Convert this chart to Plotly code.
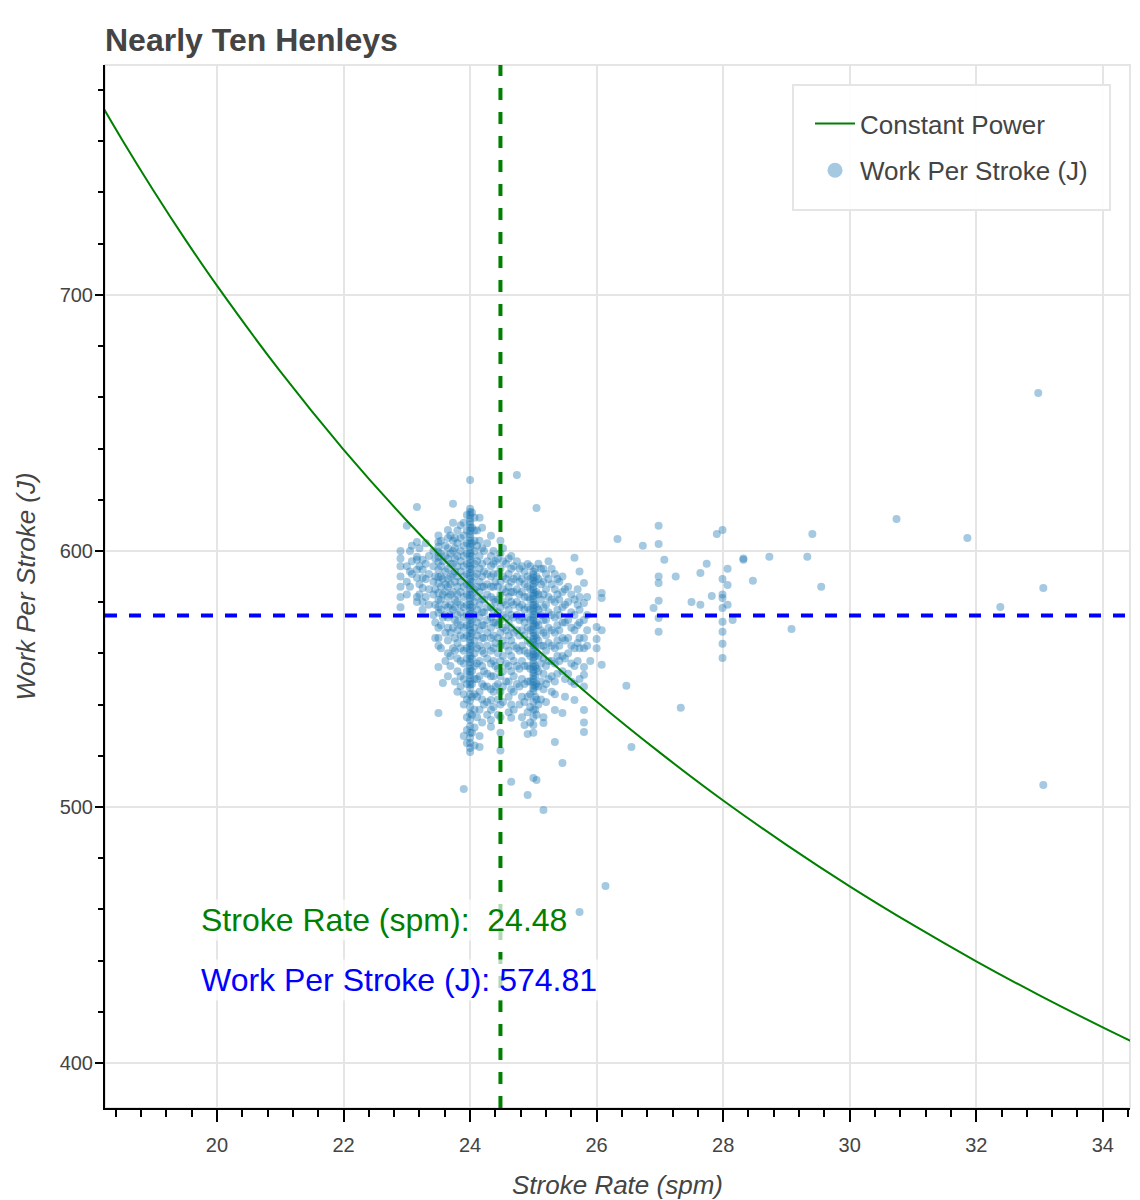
import plotly.graph_objects as go

# ---------------- data ----------------
mean_rate = 24.48      # mean stroke rate (spm)
mean_work = 574.81     # mean work per stroke (J)

# constant power curve
curve_rate = [18.0, 18.5, 19.0, 19.5, 20.0, 21.0, 22.0, 23.0, 24.0, 25.0, 26.0, 27.0,
              28.0, 29.0, 30.0, 31.0, 32.0, 33.0, 34.0, 34.6]
curve_work = [781.7, 760.6, 740.6, 721.6, 703.6, 670.1, 639.6, 611.8, 586.3, 562.9, 541.2, 521.2,
              502.5, 485.2, 469.0, 453.9, 439.7, 426.4, 413.9, 406.7]

# work per stroke, grouped by stroke-rate column
rates_23 = [22.90, 23.00, 23.08, 23.16, 23.25, 23.35, 23.42, 23.50, 23.57, 23.65, 23.73, 23.80, 23.90]
works_23 = [
    [600, 597, 594, 590, 586, 582, 578],
    [609.8, 594, 588, 583],
    [602, 596, 591],
    [617.2, 603.5, 597.7, 596.5, 592.6, 589.5, 582, 580],
    [596.5, 592.6, 589.5, 585.5, 580, 577],
    [598, 591, 585, 579],
    [600, 594, 588, 583, 575],
    [606, 603.5, 601.6, 599.6, 597.7, 595.7, 592.6, 589.8, 587.5, 583.6, 580.9, 578.1, 575.8, 570, 566, 563, 554.7, 536.7],
    [596, 589, 583, 574, 548.4],
    [608.2, 605, 601, 597, 593, 589, 586, 582, 578, 574, 570, 565, 560, 551],
    [618.4, 611, 604, 600, 595, 591, 584, 577, 570, 562],
    [608, 603, 598, 594, 590, 586, 583, 580, 575, 572, 569, 564, 558, 553, 545],
    [611, 606, 602, 598, 594, 590, 586, 582, 578, 574, 570, 566, 561, 556, 550, 544, 540, 527.7, 507],
]

rates_24 = [24.00, 24.07, 24.15, 24.22, 24.33, 24.40, 24.48, 24.57, 24.65, 24.74, 24.82, 24.91]
works_24 = [
    [627.7, 616.5, 615.2, 614.0, 612.8, 611.5, 610.3, 609.0, 607.8, 606.5, 605.3, 604.0, 602.8, 601.5,
     600.3, 599.0, 597.8, 596.5, 595.3, 594.0, 592.8, 591.5, 590.3, 589.0, 587.8, 586.5, 585.3, 584.0,
     582.8, 581.5, 580.3, 579.0, 577.8, 576.5, 575.3, 574.0, 572.8, 571.5, 570.3, 569.0, 567.8, 566.5,
     565.3, 564.0, 562.8, 561.5, 560.3, 559.0, 557.8, 556.5, 555.3, 554.0, 552.8, 551.5, 550.3, 549.0,
     547.8, 546.5, 544.0, 541.5, 539.0, 536.5, 534.0, 531.5, 529.0, 527.0, 525.0, 523.0, 521.5],
    [613, 608, 604, 600, 595, 590, 585, 580, 575, 570, 565, 560, 555, 550, 544, 538, 531, 524],
    [613, 604, 598, 593, 588, 584, 579, 574, 569, 563, 557, 551, 545, 538, 527.7, 523.4],
    [600, 592, 586, 581, 576, 571, 566, 560, 553, 547, 540],
    [605.9, 598, 594, 590, 586, 582, 578, 574, 570, 566, 561, 556, 551, 546, 541.8, 538, 534, 531.3],
    [596, 588, 580, 572, 564, 555, 547],
    [604, 599, 593, 588, 583, 578, 573, 568, 563, 557, 551, 545, 540, 535, 529, 522],
    [595, 589, 584, 579, 574, 569, 563, 556, 549],
    [598, 593, 588, 584, 580, 575, 570, 565, 559, 553, 546, 540, 534.8, 509.8],
    [629.7, 596, 590, 585, 580, 575, 569, 562, 555, 548],
    [594, 589, 584, 579, 574, 569, 563, 557, 550, 543, 535],
    [594.9, 590, 586, 582, 578, 574, 570, 565, 560, 555, 549, 543, 537, 528.5, 504.7],
]

rates_25 = [25.00, 25.05, 25.12, 25.16, 25.24, 25.34, 25.41, 25.46, 25.55, 25.65, 25.73, 25.80,
            25.90, 26.00, 26.08, 26.14]
works_25 = [
    [592.0, 590.8, 589.6, 588.4, 587.2, 586.0, 584.8, 583.6, 582.4, 581.2, 580.0, 578.8, 577.6, 576.4,
     575.2, 574.0, 572.8, 571.6, 570.4, 569.2, 568.0, 566.8, 565.6, 564.4, 563.2, 562.0, 560.8, 559.6,
     558.4, 557.2, 556.0, 554.8, 553.6, 552.4, 551.2, 550.0, 548.8, 547.6, 546.4, 545.2, 541.0, 538.0,
     535.0, 532.0, 529.0, 511.3],
    [616.8, 590, 584, 578, 572, 566, 560, 554, 548, 542, 536, 510.5],
    [593, 587, 581, 575, 569, 563, 556, 549, 542],
    [593, 588, 583, 578, 573, 568, 563, 558, 552, 546, 535, 532.8, 498.8],
    [596, 589, 582, 576, 570, 564, 557, 550],
    [591, 585, 580, 574, 568, 562, 556, 549, 544, 537.9, 525.4],
    [588, 581, 575, 569, 563, 557],
    [590, 584, 578, 572, 566, 559, 553, 536.7, 517.2],
    [586, 580, 573, 566, 560, 552],
    [597.3, 581, 575, 569, 562, 555, 548, 541.8],
    [592, 582, 577, 572, 566, 562, 550, 459],
    [587.5, 579.7, 573, 566, 562, 554.7, 551.6, 547, 537.9, 533, 529.3],
    [557],
    [570.3, 565.6, 562],
    [583.6, 581.6, 569, 555.5],
    [469.1],
]

# in-between stroke rates inside the main cluster
rates_mid = [23.05, 23.20, 23.30, 23.45, 23.54, 23.61, 23.69, 23.76, 23.85, 23.95, 24.03, 24.11,
             24.19, 24.27, 24.37, 24.44, 24.52, 24.61, 24.69, 24.78, 24.86, 24.95, 25.03, 25.08,
             25.20, 25.29, 25.38, 25.50, 25.60, 25.70, 25.85]
works_mid = [
    [600, 592, 586],
    [601, 594, 587, 583],
    [603, 595, 589, 582],
    [597, 590, 585, 579, 572, 566],
    [604, 599, 594, 590, 586, 581, 577, 571, 562],
    [602, 598, 592, 587, 584, 579, 575, 568, 557],
    [606, 599, 595, 590, 587, 583, 579, 575, 568, 559, 555],
    [605, 601, 597, 592, 588, 581, 578, 573, 566, 561, 549],
    [610, 605, 600, 596, 592, 588, 584, 579, 576, 571, 567, 562, 557, 551, 547],
    [614, 608, 603, 599, 595, 591, 587, 583, 579, 575, 571, 567, 562, 558, 553, 548, 542, 535, 530, 525],
    [615, 609, 603, 598, 593, 588, 583, 578, 573, 568, 563, 558, 553, 548, 543, 536, 529],
    [608, 602, 596, 591, 586, 582, 577, 572, 567, 562, 556, 550, 543, 535],
    [609, 601, 595, 590, 586, 581, 576, 571, 566, 561, 555, 548, 542, 533],
    [603, 596, 591, 587, 583, 578, 573, 568, 563, 558, 552, 547, 541, 536],
    [600, 595, 591, 586, 581, 577, 572, 567, 562, 557, 551, 545, 539],
    [597, 591, 586, 581, 576, 571, 566, 560, 554, 548, 542, 536],
    [601, 596, 590, 585, 580, 575, 570, 565, 559, 553, 547, 541],
    [597, 591, 586, 582, 577, 572, 567, 561, 555, 549, 543, 537],
    [594, 589, 584, 579, 574, 568, 563, 557, 551, 545, 538],
    [593, 588, 583, 578, 573, 567, 561, 554, 547, 540],
    [592, 587, 582, 577, 572, 567, 561, 555, 548, 541, 532],
    [594, 589, 585, 581, 577, 573, 569, 564, 559, 554, 549, 544, 539, 533],
    [593, 588, 583, 579, 575, 571, 567, 563, 559, 555, 551, 547, 543, 538],
    [595, 589, 583, 577, 571, 565, 559, 553, 547, 540],
    [591, 585, 579, 573, 567, 561, 555, 548, 541],
    [593, 587, 581, 575, 569, 563, 557, 551, 545],
    [589, 583, 577, 571, 565, 559, 552],
    [585, 579, 572, 565, 558, 550, 543],
    [583, 576, 570, 563, 556, 549],
    [585, 579, 571, 564, 557],
    [582, 575, 569, 563],
]

rates_tail = [26.33, 26.47, 26.55, 26.73, 26.90, 26.98, 27.07, 27.25, 27.33, 27.50, 27.64, 27.74,
              27.82, 27.90, 27.99, 28.07, 28.15, 28.32, 28.47, 28.73, 29.08, 29.33, 29.41, 29.55,
              30.74, 31.86, 32.38, 32.98, 33.06]
works_tail = [
    [604.7], [547.3], [523.4], [602], [577.7],
    [609.8, 602.7, 590, 587.5, 580.5, 573.8, 568.4],
    [596.5], [590], [538.7], [580], [591.4, 579], [595], [582.4], [606.6],
    [608.2, 589, 583, 581.6, 577.7, 572.3, 568.4, 563.7, 558.2],
    [593, 586.7, 579], [573], [597, 596.5], [588.3], [597.7], [569.5], [597.7],
    [606.6], [586], [612.5], [605], [578.1], [661.7], [585.5, 508.6],
]

# ---------------- build ----------------
xs, ys = [], []
for rates, works in ((rates_23, works_23), (rates_24, works_24), (rates_25, works_25),
                     (rates_mid, works_mid), (rates_tail, works_tail)):
    for r, col in zip(rates, works):
        xs += [r] * len(col)
        ys += col

FONT = "Liberation Sans, Arial, Helvetica, sans-serif"
DOT = "rgba(31,119,180,0.4)"
GRID = "#e5e5e5"
TXT = "#444444"

fig = go.Figure()
fig.add_trace(go.Scatter(x=xs, y=ys, mode="markers",
                         marker=dict(size=8, color=DOT, line=dict(width=0)),
                         showlegend=False, hoverinfo="skip"))
fig.add_trace(go.Scatter(x=curve_rate, y=curve_work, mode="lines",
                         line=dict(color="green", width=2, shape="spline"),
                         name="Constant Power", legendgroup="a", legendrank=1))
fig.add_trace(go.Scatter(x=[None], y=[None], mode="markers",
                         marker=dict(size=15, color=DOT, line=dict(width=0)),
                         name="Work Per Stroke (J)", legendgroup="b", legendrank=2))

# plot frame outline
fig.add_shape(type="rect", xref="paper", yref="paper", x0=0, x1=1, y0=0, y1=1,
              line=dict(color=GRID, width=2), layer="below")
# mean lines
fig.add_shape(type="line", xref="x", yref="paper", x0=mean_rate, x1=mean_rate, y0=0, y1=1,
              line=dict(color="green", width=4, dash="12px,12px"))
fig.add_shape(type="line", xref="paper", yref="y", x0=0, x1=1, y0=mean_work, y1=mean_work,
              line=dict(color="blue", width=4, dash="12px,12px"))
# legend box (frame behind the legend entries)
fig.add_shape(type="rect", xref="paper", yref="paper", x0=0.6712, x1=0.9805, y0=0.861, y1=0.9808,
              line=dict(color=GRID, width=2), fillcolor="rgba(255,255,255,0.92)", layer="above")

fig.add_annotation(x=19.70, y=455.9, xref="x", yref="y", showarrow=False,
                   text=f"Stroke Rate (spm):\u00a0 {mean_rate:.2f}",
                   xanchor="left", yanchor="middle",
                   font=dict(size=32, color="green", family=FONT),
                   bgcolor="rgba(255,255,255,0.7)", borderpad=2)
fig.add_annotation(x=19.70, y=432.4, xref="x", yref="y", showarrow=False,
                   text=f"Work Per Stroke (J): {mean_work:.2f}",
                   xanchor="left", yanchor="middle",
                   font=dict(size=32, color="blue", family=FONT),
                   bgcolor="rgba(255,255,255,0.7)", borderpad=2)

axis_common = dict(
    showgrid=True, gridcolor=GRID, gridwidth=2,
    showline=True, linecolor="black", linewidth=2,
    ticks="outside", tickwidth=2, tickcolor="black",
    zeroline=False, tickfont=dict(size=20, color=TXT, family=FONT),
    automargin=False,
)

fig.update_layout(
    width=1140, height=1200,
    margin=dict(l=105, r=10, t=65, b=92),
    plot_bgcolor="white", paper_bgcolor="white",
    font=dict(family=FONT, color=TXT),
    title=dict(text="<b>Nearly Ten Henleys</b>", x=105 / 1140, xref="container", xanchor="left",
               y=1 - 40 / 1200, yref="container", yanchor="middle",
               font=dict(size=32, color=TXT, family=FONT)),
    xaxis=dict(range=[18.23, 34.43], tick0=20, dtick=2, ticklen=12, ticklabelstandoff=6,
               minor=dict(tick0=20, dtick=0.4, ticks="outside", ticklen=7, tickwidth=2,
                          tickcolor="black", showgrid=False),
               title=dict(text="<i>Stroke Rate (spm)</i>", font=dict(size=26, color=TXT, family=FONT),
                          standoff=22),
               **axis_common),
    yaxis=dict(range=[382.4, 789.8], tick0=400, dtick=100, ticklen=8, ticklabelstandoff=-2,
               minor=dict(tick0=400, dtick=20, ticks="outside", ticklen=5, tickwidth=2,
                          tickcolor="black", showgrid=False),
               title=dict(text="<i>Work Per Stroke (J)</i>", font=dict(size=26, color=TXT, family=FONT),
                          standoff=17),
               **axis_common),
    showlegend=True,
    legend=dict(x=(810 - 105) / 1025, xanchor="left", y=1 - 35 / 1043, yanchor="top",
                bgcolor="rgba(0,0,0,0)", borderwidth=0,
                font=dict(size=26, color=TXT, family=FONT),
                tracegroupgap=10, itemwidth=40),
    hovermode=False,
)

fig.write_html("out.html", config={"displayModeBar": False},
               post_script="document.body.style.margin='0';document.body.style.overflow='hidden';")
